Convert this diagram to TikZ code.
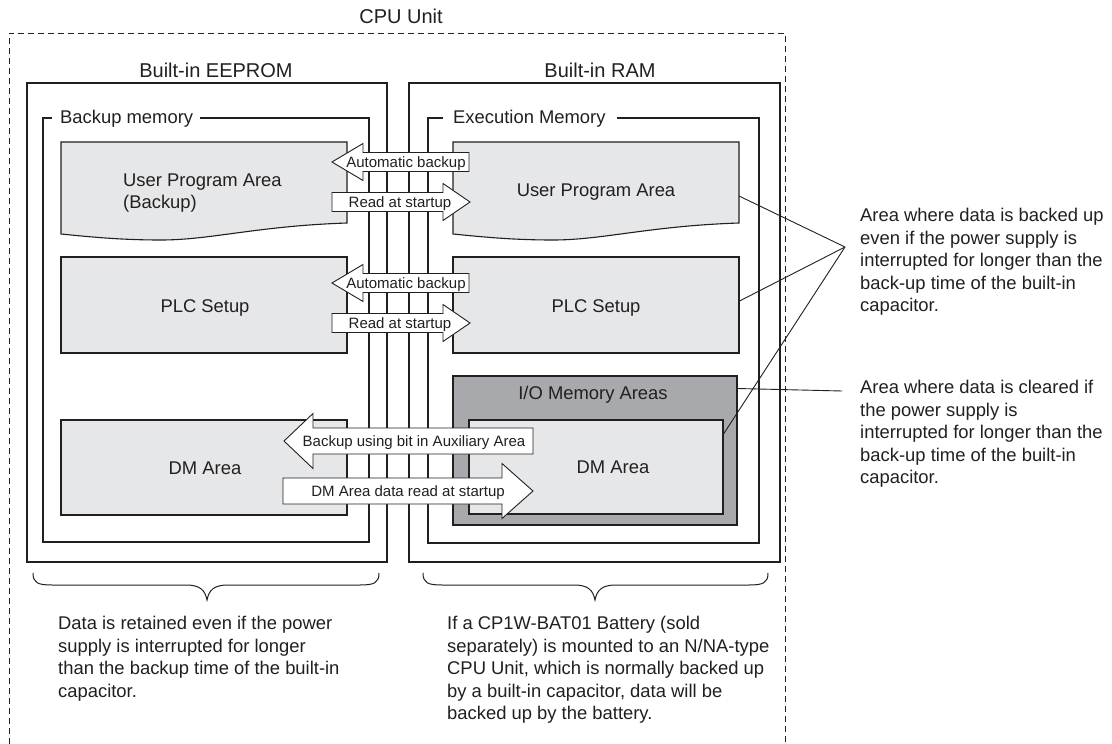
\documentclass[tikz,border=0pt]{standalone}
\usepackage{fontspec}
\setmainfont{Liberation Sans}
\definecolor{ink}{HTML}{231F20}
\definecolor{areafill}{HTML}{E6E7E8}
\definecolor{iofill}{HTML}{A7A9AC}
\begin{document}
\begin{tikzpicture}[x=1pt,y=-1pt,
  every node/.style={inner sep=0pt, text=ink},
  hdr/.style={font=\fontsize{20}{24}\selectfont},
  lbl/.style={font=\fontsize{18.4}{22.5}\selectfont},
  small/.style={font=\fontsize{15}{18}\selectfont},
  para/.style={lbl, align=left, anchor=north west},
  outerbox/.style={draw=ink, line width=2.5pt},
  framel/.style={draw=ink, line width=1.1pt},
  area/.style={draw=ink, fill=areafill, line width=1.1pt},
  ioarea/.style={draw=ink, fill=iofill, line width=1.1pt},
  fatarrow/.style={draw=ink, fill=white, line width=0.9pt, line join=miter},
  leader/.style={draw=ink, line width=0.9pt},
  bracel/.style={draw=ink, line width=1pt},
  cpudash/.style={draw=ink, line width=1pt, dash pattern=on 6pt off 4pt},
  ]
\useasboundingbox (0,0) rectangle (1112,744);
\fill[white] (0,0) rectangle (1112,744);

% CPU unit dashed outline (open at bottom)
\draw[cpudash] (9,744) -- (9,33) -- (785,33) -- (785,744);
\node[hdr, anchor=base] (cpu) at (401,23.2) {CPU Unit};

% Outer memory boxes
\draw[outerbox] (27,83) rectangle (387,562);
\draw[outerbox] (409,83) rectangle (780,562);
\node[hdr, anchor=base] (eeprom) at (216,77.2) {Built-in EEPROM};
\node[hdr, anchor=base] (ram) at (600,77.2) {Built-in RAM};

% Frames
\draw[framel] (52,118) -- (43,118) -- (43,542) -- (369,542) -- (369,118) -- (200,118);
\node[lbl, anchor=base west] (bm) at (60,123.6) {Backup memory};
\draw[framel] (443,118) -- (428,118) -- (428,543) -- (759,543) -- (759,118) -- (617,118);
\node[lbl, anchor=base west] (em) at (453,123.6) {Execution Memory};

% User program areas (wavy bottoms)
\draw[area] (61,142) -- (347,142) -- (347,223)
  .. controls (257,226) and (211,240) .. (161,240)
  .. controls (121,240) and (91,237) .. (61,234) -- cycle;
\node[para] (upaL) at (123,173.2) {User Program Area\\(Backup)};
\draw[area] (453,142) -- (739,142) -- (739,223)
  .. controls (649,226) and (603,240) .. (553,240)
  .. controls (513,240) and (483,237) .. (453,234) -- cycle;
\node[lbl, anchor=base] (upaR) at (596,196.6) {User Program Area};
\coordinate (upaRpt) at (739,196);

% PLC setup
\node[area, minimum width=286pt, minimum height=96pt] (plcL) at (204,305) {};
\node[lbl, anchor=base] at (205,312.6) {PLC Setup};
\node[area, minimum width=286pt, minimum height=96pt] (plcR) at (596,305) {};
\node[lbl, anchor=base] at (596,312.6) {PLC Setup};

% DM areas
\node[area, minimum width=286pt, minimum height=95pt] (dmL) at (204,467.5) {};
\node[lbl, anchor=base] at (205,474.6) {DM Area};
\node[ioarea, minimum width=284pt, minimum height=149pt] (io) at (595,450.5) {};
\node[lbl, anchor=base] at (593,399.6) {I/O Memory Areas};
\node[area, minimum width=254pt, minimum height=94pt] (dmR) at (596,467) {};
\node[lbl, anchor=base] at (613,473.6) {DM Area};

% Small transfer arrows (pair 1)
\draw[fatarrow] (332,162) -- (363,143.5) -- (363,152.5) -- (469,152.5) -- (469,171.5) -- (363,171.5) -- (363,180.5) -- cycle;
\node[small, anchor=base] (ab1) at (406,167.4) {Automatic backup};
\draw[fatarrow] (470,202) -- (443,183.5) -- (443,192.5) -- (332,192.5) -- (332,211.5) -- (443,211.5) -- (443,220.5) -- cycle;
\node[small, anchor=base] (rs1) at (400,207.4) {Read at startup};
% pair 2
\draw[fatarrow] (332,283) -- (363,264.5) -- (363,273.5) -- (469,273.5) -- (469,292.5) -- (363,292.5) -- (363,301.5) -- cycle;
\node[small, anchor=base] (ab2) at (406,288.4) {Automatic backup};
\draw[fatarrow] (470,323) -- (443,304.5) -- (443,313.5) -- (332,313.5) -- (332,332.5) -- (443,332.5) -- (443,341.5) -- cycle;
\node[small, anchor=base] (rs2) at (400,328.4) {Read at startup};

% Big DM arrows
\draw[fatarrow] (284,441) -- (313,413.5) -- (313,428) -- (533,428) -- (533,454) -- (313,454) -- (313,468.5) -- cycle;
\node[small, anchor=base] (bu) at (414,446.4) {Backup using bit in Auxiliary Area};
\draw[fatarrow] (533,491) -- (502,463.5) -- (502,478) -- (283,478) -- (283,504) -- (502,504) -- (502,518.5) -- cycle;
\node[small, anchor=base] (dr) at (408,496.4) {DM Area data read at startup};

% Leaders
\coordinate (conv) at (845,247);
\coordinate (conv2) at (842,391);
\draw[leader] (upaRpt) -- (conv);
\draw[leader] ([yshift=4pt]plcR.east) -- (conv);
\draw[leader] ([yshift=33pt]dmR.east) -- (conv);
\draw[leader] ([yshift=62pt]io.east) -- (conv2);

% Right-hand notes
\node[para] (note1) at (860,208.2) {Area where data is backed up\\even if the power supply is\\interrupted for longer than the\\back-up time of the built-in\\capacitor.};
\node[para] (note2) at (860,380.2) {Area where data is cleared if\\the power supply is\\interrupted for longer than the\\back-up time of the built-in\\capacitor.};

% Braces
\draw[bracel] (33,573) .. controls (33,583) and (38,585) .. (52,585) -- (186,585)
  .. controls (200,585) and (205,590) .. (207,600)
  .. controls (209,590) and (214,585) .. (228,585) -- (360,585)
  .. controls (374,585) and (379,583) .. (379,573);
\draw[bracel] (423,573) .. controls (423,583) and (428,585) .. (442,585) -- (574,585)
  .. controls (588,585) and (593,590) .. (595,600)
  .. controls (597,590) and (602,585) .. (616,585) -- (749,585)
  .. controls (763,585) and (768,583) .. (768,573);

% Bottom notes
\node[para] (noteL) at (58,616.2) {Data is retained even if the power\\supply is interrupted for longer\\than the backup time of the built-in\\capacitor.};
\node[para] (noteR) at (447,616.2) {If a CP1W-BAT01 Battery (sold\\separately) is mounted to an N/NA-type\\CPU Unit, which is normally backed up\\by a built-in capacitor, data will be\\backed up by the battery.};
\end{tikzpicture}
\end{document}
